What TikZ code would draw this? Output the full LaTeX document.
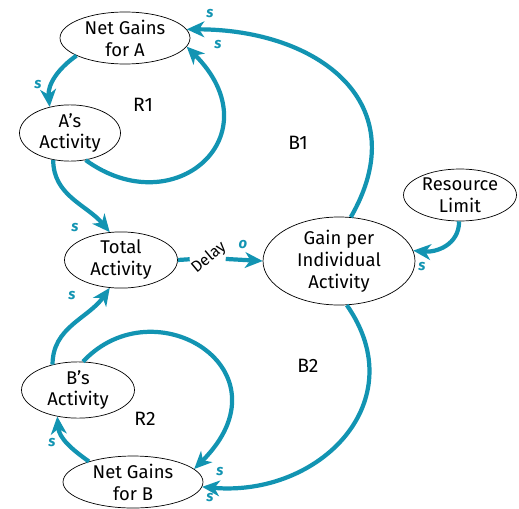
\documentclass[tikz,border=0pt]{standalone}
\usepackage{fontspec}
\setmainfont{Fira Sans}
\usetikzlibrary{shapes.geometric,arrows.meta}
\definecolor{loopteal}{RGB}{18,148,178}

\begin{document}
\begin{tikzpicture}[x=0.02cm,y=0.02cm,
    var/.style={ellipse, draw, thin, inner sep=0pt, align=center,
      font=\fontsize{10.5}{12.5}\selectfont},
    link/.style={draw=loopteal, line width=2.4pt,
      -{Stealth[length=10pt,width=9pt,inset=3pt]}},
    pol/.style={text=loopteal, font=\fontsize{8.5}{8.5}\selectfont\bfseries\itshape},
    looplbl/.style={font=\fontsize{11}{12}\selectfont}]
    \useasboundingbox (0,0) rectangle (519,508);

    \node[var, minimum width=2.6cm,  minimum height=1.04cm] (netA)     at (125,470) {Net Gains\\for A};
    \node[var, minimum width=2.02cm, minimum height=1.02cm] (aAct)     at (70,375)  {A's\\Activity};
    \node[var, minimum width=2.26cm, minimum height=1.04cm] (total)    at (121,248) {Total\\Activity};
    \node[var, minimum width=3.04cm, minimum height=1.52cm] (gain)     at (339,247) {Gain per\\Individual\\Activity};
    \node[var, minimum width=2.26cm, minimum height=1.04cm] (resource) at (460,313) {Resource\\Limit};
    \node[var, minimum width=2.26cm, minimum height=1.04cm] (bAct)     at (78,118)  {B's\\Activity};
    \node[var, minimum width=2.8cm,  minimum height=1.04cm] (netB)     at (133,26)  {Net Gains\\for B};
    \node[rotate=40, inner sep=2pt, font=\fontsize{9}{9}\selectfont] (delay) at (209,250) {Delay};

    \draw[link] (netA.200)  to[out=215, in=95] (aAct.128);
    \draw[link] (aAct.300)  to[out=-36, in=-45, out distance=2.2cm, in distance=2.5cm] (netA.352);
    \draw[link] (aAct.238)  to[out=270, in=130] (total.112);
    \draw[draw=loopteal, line width=2.4pt] (total.east) -- (delay);
    \draw[link] (delay) -- (gain.west);
    \draw[link] (gain.75)   to[out=60, in=0, looseness=1.35] (netA.8);
    \draw[link] (resource.268) to[out=270, in=-5, looseness=1.1] (gain.8);
    \draw[link] (bAct.135)  to[out=90, in=235] (total.248);
    \draw[link] (netB.155)  to[out=145, in=-85] (bAct.232);
    \draw[link] (bAct.80)   to[out=47, in=45, out distance=2.1cm, in distance=2.8cm] (netB.12);
    \draw[link] (gain.-80)  to[out=-55, in=-5, looseness=1.3] (netB.-4);

    \node[pol] (p1)  at (38,423)  {s};
    \node[pol] (p2)  at (218,463) {s};
    \node[pol] (p3)  at (75,280)  {s};
    \node[pol] (p4)  at (243,263) {o};
    \node[pol] (p5)  at (210,494) {s};
    \node[pol] (p6)  at (422,241) {s};
    \node[pol] (p7)  at (72,212)  {s};
    \node[pol] (p8)  at (52,65)   {s};
    \node[pol] (p9)  at (220,36)  {s};
    \node[pol] (p10) at (210,10)  {s};

    \node[looplbl] (r1) at (143,403) {R1};
    \node[looplbl] (b1) at (298,365) {B1};
    \node[looplbl] (r2) at (145,89)  {R2};
    \node[looplbl] (b2) at (308,142) {B2};
\end{tikzpicture}
\end{document}
